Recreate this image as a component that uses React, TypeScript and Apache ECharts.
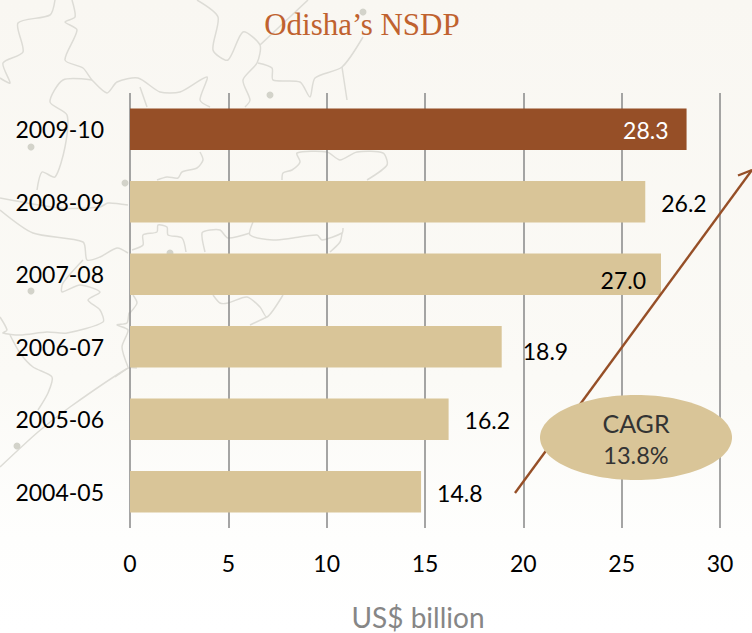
import React, { useEffect, useRef } from "react";
import * as echarts from "echarts";

const categories = ["2009-10", "2008-09", "2007-08", "2006-07", "2005-06", "2004-05"];
const nsdpValues = [28.3, 26.2, 27.0, 18.9, 16.2, 14.8];
const highlightedYear = "2009-10";
const labelInsideYears = ["2009-10", "2007-08"];
const xTicks = { min: 0, max: 30, interval: 5 };
const titleText = "Odisha’s NSDP";
const axisTitle = "US$ billion";
const cagrLines = ["CAGR", "13.8%"];

// Decorative backdrop map outline
const mapOutlines: number[][][] = [
  [[72,0],[75,17],[65,22],[77,30],[65,60],[83,68],[92,80],[107,93],[117,82],[138,78],[160,92],[180,92],[207,77],[200,100],[210,107]],
  [[55,0],[50,15],[18,23],[23,52],[3,63],[10,83],[0,78]],
  [[197,0],[218,17],[213,50],[228,60],[243,32],[260,45],[257,63],[243,80],[250,100],[245,107]],
  [[260,45],[308,0]],
  [[258,63],[272,68],[273,80],[300,82],[310,97],[315,78],[342,67],[363,37]],
  [[342,67],[347,100]],
  [[92,80],[63,80],[50,102],[67,115],[65,147],[55,177],[42,172],[37,190]],
  [[0,198],[60,208],[100,207],[108,203],[128,205]],
  [[0,210],[33,233],[83,242],[87,260],[100,257],[117,248],[128,253]],
  [[140,87],[147,107]],
  [[200,152],[203,160],[197,168],[182,172],[178,178],[167,177],[157,180]],
  [[282,180],[283,173],[292,170],[300,162],[297,153],[327,152],[340,160],[357,152],[383,153],[387,165],[367,180]],
  [[253,222],[250,235],[273,240],[293,238],[317,235],[322,240],[342,233],[343,228]],
  [[342,233],[340,242],[330,252]],
  [[132,250],[143,245],[143,235],[157,232],[158,225],[167,227],[168,235],[182,238],[186,252]],
  [[205,252],[202,233],[210,230],[220,230],[228,238],[250,233]],
  [[213,295],[220,303],[228,303],[247,297],[260,307],[267,317],[283,295]],
  [[267,317],[250,325]],
  [[133,295],[137,303],[130,313],[129,313],[127,323],[117,325],[128,330],[122,347],[128,367]],
  [[0,317],[7,330],[3,333],[20,335],[47,332],[67,333],[103,322],[100,310],[88,300],[100,292],[80,285],[62,292],[63,283],[83,260]],
  [[10,335],[20,353],[33,367],[52,377],[48,393],[38,410]],
  [[0,467],[38,432],[70,407],[128,368],[137,368]],
  [[128,368],[115,377]],
];
const mapDots = [[363,12],[270,95],[31,147],[125,183],[31,291],[170,253],[17,446]];

const labelDistance: Record<string, number> = { "2006-07": 21, "2007-08": 15, "2009-10": 18 };
const labelDrop: Record<string, number> = { "2007-08": 6, "2006-07": 4 };

export default function App() {
  const ref = useRef<HTMLDivElement>(null);
  useEffect(() => {
    document.body.style.margin = "0";
    const chart = echarts.init(ref.current!, null, { renderer: "svg" });
    const sans = "Lato";
    const outlineGraphics = mapOutlines.map((pts) => ({
      type: "polyline",
      z: -1,
      shape: { points: pts, smooth: 0.25 },
      style: { stroke: "#dddcd6", lineWidth: 1.5, fill: "none" },
    }));
    const dotGraphics = mapDots.map(([x, y]) => ({
      type: "circle",
      z: -1,
      shape: { cx: x, cy: y, r: 3.5 },
      style: { fill: "#d3d3ca" },
    }));
    chart.setOption({
      animation: false,
      backgroundColor: "transparent",
      grid: { left: 130, right: 32, top: 93, bottom: 105, containLabel: false },
      xAxis: {
        type: "value",
        min: xTicks.min,
        max: xTicks.max,
        interval: xTicks.interval,
        axisLine: { show: false },
        axisTick: { show: false },
        splitLine: { show: true, lineStyle: { color: "#8f8f8f", width: 1.6 } },
        axisLabel: { color: "#000", fontFamily: sans, fontSize: 23, margin: 23 },
      },
      yAxis: {
        type: "category",
        inverse: true,
        data: categories,
        axisLine: { show: false },
        axisTick: { show: false },
        axisLabel: { color: "#000", fontFamily: sans, fontSize: 23, margin: 26, padding: [0, 0, 2, 0] },
      },
      series: [
        {
          type: "bar",
          barWidth: 41.5,
          z: 3,
          data: nsdpValues.map((value, i) => {
            const year = categories[i];
            const inside = labelInsideYears.includes(year);
            const hot = year === highlightedYear;
            return {
              value,
              itemStyle: { color: hot ? "#964f27" : "#d9c598" },
              label: {
                show: true,
                position: inside ? "insideRight" : "right",
                distance: labelDistance[year] ?? 16,
                offset: [0, labelDrop[year] ?? 1],
                color: hot ? "#ffffff" : "#000000",
                fontFamily: sans,
                fontSize: 23,
                formatter: value.toFixed(1),
              },
            };
          }),
        },
      ],
      graphic: [
        {
          type: "rect",
          z: -2,
          silent: true,
          shape: { x: 0, y: 0, width: 752, height: 633 },
          style: {
            fill: new echarts.graphic.LinearGradient(0, 0, 0, 1, [
              { offset: 0, color: "#f9f7f2" },
              { offset: 0.6, color: "#fbfaf6" },
              { offset: 0.85, color: "#fefefd" },
              { offset: 1, color: "#ffffff" },
            ]),
          },
        },
        ...outlineGraphics,
        ...dotGraphics,
        {
          type: "text",
          z: 10,
          style: {
            text: titleText,
            x: 362,
            y: 24,
            align: "center",
            verticalAlign: "middle",
            fill: "#c0622f",
            fontFamily: "Liberation Serif",
            fontSize: 31,
          },
        },
        {
          type: "text",
          z: 10,
          style: {
            text: axisTitle,
            x: 418,
            y: 617,
            align: "center",
            verticalAlign: "middle",
            fill: "#868686",
            fontFamily: sans,
            fontSize: 28,
            lineHeight: 28,
          },
        },
        {
          type: "line",
          z: 20,
          shape: { x1: 515, y1: 493, x2: 752, y2: 170 },
          style: { stroke: "#964f27", lineWidth: 2.4 },
        },
        {
          type: "line",
          z: 20,
          shape: { x1: 738, y1: 175.5, x2: 752, y2: 170 },
          style: { stroke: "#964f27", lineWidth: 2.4 },
        },
        {
          type: "ellipse",
          z: 21,
          shape: { cx: 636, cy: 437.5, rx: 96, ry: 42.5 },
          style: { fill: "#d9c598" },
        },
        {
          type: "text",
          z: 22,
          style: {
            text: cagrLines[0],
            x: 636,
            y: 423,
            align: "center",
            verticalAlign: "middle",
            fill: "#333333",
            fontFamily: sans,
            fontSize: 25,
          },
        },
        {
          type: "text",
          z: 22,
          style: {
            text: cagrLines[1],
            x: 636,
            y: 455,
            align: "center",
            verticalAlign: "middle",
            fill: "#333333",
            fontFamily: sans,
            fontSize: 23.5,
          },
        },
      ],
    });
    return () => chart.dispose();
  }, []);
  return <div ref={ref} style={{ position: "absolute", left: 0, top: 0, width: 752, height: 633 }} />;
}
